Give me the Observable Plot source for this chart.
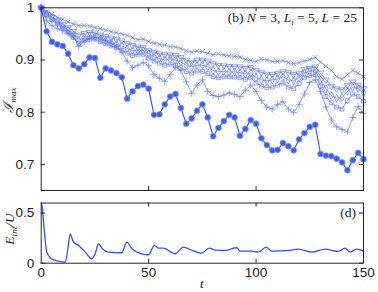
<!DOCTYPE html>
<html><head><meta charset="utf-8">
<script src="https://cdn.jsdelivr.net/npm/d3@7"></script>
<script src="https://cdn.jsdelivr.net/npm/@observablehq/plot@0.6"></script>
<style>
body{margin:0;background:#fff;}
#wrap{position:relative;width:378px;height:292px;background:#fff;}
#wrap svg{position:absolute;left:0;}
</style></head><body><div id="wrap"></div>
<script>
// ---- data ----
const t = [0,2.5,5,7.5,10,12.5,15,17.5,20,22.5,25,27.5,30,32.5,35,37.5,40,42.5,45,47.5,50,52.5,55,57.5,60,62.5,65,67.5,70,72.5,75,77.5,80,82.5,85,87.5,90,92.5,95,97.5,100,102.5,105,107.5,110,112.5,115,117.5,120,122.5,125,127.5,130,132.5,135,137.5,140,142.5,145,147.5,150];
const circles = [1.0,0.955,0.935,0.930,0.927,0.912,0.890,0.884,0.892,0.905,0.904,0.866,0.884,0.880,0.875,0.867,0.826,0.840,0.850,0.853,0.845,0.795,0.796,0.815,0.830,0.835,0.808,0.778,0.788,0.803,0.815,0.790,0.754,0.770,0.783,0.795,0.790,0.755,0.768,0.785,0.778,0.750,0.737,0.727,0.728,0.741,0.735,0.727,0.748,0.760,0.772,0.776,0.720,0.717,0.716,0.711,0.704,0.689,0.708,0.722,0.710];
const plusS = [1.0,0.975,0.966,0.960,0.956,0.951,0.945,0.926,0.936,0.941,0.943,0.943,0.937,0.932,0.926,0.915,0.898,0.885,0.890,0.895,0.889,0.872,0.865,0.859,0.872,0.886,0.880,0.858,0.836,0.852,0.862,0.840,0.832,0.830,0.833,0.837,0.834,0.830,0.842,0.852,0.840,0.822,0.810,0.806,0.815,0.820,0.806,0.799,0.815,0.835,0.857,0.862,0.840,0.810,0.785,0.772,0.767,0.762,0.790,0.811,0.798];
const timesS = [1.0,0.993,0.988,0.982,0.978,0.973,0.969,0.966,0.966,0.965,0.962,0.960,0.957,0.954,0.952,0.950,0.947,0.943,0.939,0.940,0.935,0.932,0.930,0.928,0.926,0.925,0.922,0.918,0.915,0.917,0.916,0.913,0.910,0.912,0.910,0.908,0.907,0.906,0.901,0.899,0.897,0.902,0.900,0.897,0.897,0.899,0.895,0.893,0.895,0.898,0.901,0.905,0.896,0.888,0.880,0.868,0.863,0.872,0.880,0.875,0.868];
const triS = [1.0,0.990,0.983,0.975,0.968,0.962,0.955,0.948,0.951,0.953,0.952,0.948,0.945,0.942,0.940,0.937,0.932,0.928,0.925,0.924,0.918,0.915,0.912,0.910,0.910,0.909,0.905,0.900,0.896,0.900,0.900,0.898,0.893,0.890,0.889,0.888,0.887,0.887,0.884,0.886,0.880,0.876,0.873,0.872,0.874,0.878,0.876,0.872,0.875,0.882,0.884,0.887,0.875,0.862,0.850,0.845,0.843,0.852,0.858,0.852,0.846];
const diaS = [1.0,0.988,0.980,0.972,0.964,0.957,0.948,0.938,0.943,0.946,0.945,0.940,0.937,0.933,0.930,0.927,0.922,0.918,0.918,0.918,0.912,0.906,0.903,0.900,0.902,0.900,0.896,0.890,0.887,0.890,0.890,0.887,0.880,0.878,0.878,0.877,0.877,0.876,0.873,0.875,0.866,0.862,0.860,0.862,0.864,0.868,0.862,0.860,0.866,0.875,0.878,0.880,0.862,0.845,0.832,0.827,0.828,0.840,0.848,0.845,0.837];
const sqS = [1.0,0.986,0.977,0.969,0.961,0.953,0.943,0.932,0.937,0.940,0.940,0.935,0.931,0.927,0.923,0.919,0.913,0.909,0.911,0.911,0.904,0.898,0.894,0.890,0.892,0.890,0.885,0.878,0.875,0.879,0.878,0.874,0.868,0.866,0.868,0.868,0.867,0.866,0.863,0.866,0.856,0.850,0.847,0.848,0.852,0.856,0.848,0.845,0.855,0.866,0.870,0.872,0.850,0.830,0.818,0.810,0.806,0.822,0.835,0.830,0.821];
const eT = [0,0.3,1.5,2.6,4.9,8,11.2,12.4,13.5,15,17.4,20.5,23.5,25.1,26.7,28.2,31.3,37.5,39.8,42.2,46.8,49.9,52.7,54.6,56.9,62.4,66.2,68.5,74.7,78.2,81,85.6,91,92.5,98,101,104.7,107.3,115,119.7,125.9,132.1,138.3,141.4,143.7,146.8,150];
const eV = [0.60,0.58,0.31,0.11,0.044,0.02,0.01,0.144,0.29,0.21,0.177,0.11,0.044,0.094,0.194,0.15,0.11,0.104,0.21,0.144,0.094,0.084,0.177,0.15,0.15,0.094,0.16,0.144,0.10,0.15,0.13,0.127,0.154,0.12,0.12,0.11,0.16,0.12,0.127,0.14,0.11,0.14,0.117,0.15,0.11,0.14,0.12];
const xTicks = [0,50,100,150];
const yTicksTop = [0.7,0.8,0.9,1];
const yTicksBot = [0,0.5];

// ---- build ----
const W = 378, ML = 40.7, MR = 15;
const blue = "#2f50ff";
const mk = arr => t.map((x,i)=>({t:x, v:arr[i]}));
const font = "'Liberation Sans', Arial, sans-serif";
const serif = "'Liberation Serif', 'Times New Roman', serif";
const frameCol = "#262626";
const wrap = document.getElementById("wrap");

function boxTicks(xT, yT, areaW, areaH){
  const k = 4;
  return [
    Plot.tickX(xT, {x:d=>d, insetTop: areaH-k, stroke:frameCol}),
    Plot.tickX(xT, {x:d=>d, insetBottom: areaH-k, stroke:frameCol}),
    Plot.tickY(yT, {y:d=>d, insetRight: areaW-k, stroke:frameCol}),
    Plot.tickY(yT, {y:d=>d, insetLeft: areaW-k, stroke:frameCol}),
  ];
}

const topH = 192, topMT = 7.3, topMB = 2;
const areaW = W - ML - MR;
const series = [
  {d: mk(sqS), sym:"square", r:2.2},
  {d: mk(diaS), sym:"diamond", r:2.4},
  {d: mk(triS), sym:"triangle", r:2.4, rot:180},
  {d: mk(timesS), sym:"times", r:2.2},
  {d: mk(plusS), sym:"plus", r:2.4},
];
const topMarks = [];
for (const s of series) {
  topMarks.push(Plot.line(s.d, {x:"t", y:"v", stroke:blue, strokeWidth:0.7, strokeOpacity:0.8}));
  topMarks.push(Plot.dot(s.d, {x:"t", y:"v", symbol: ()=>s.sym, r:s.r, stroke:"#5d78ff", strokeWidth:0.9, fill:"none", strokeOpacity:0.75, rotate: s.rot||0}));
}
const cd = mk(circles);
topMarks.push(Plot.line(cd, {x:"t", y:"v", stroke:blue, strokeWidth:1.1}));
topMarks.push(Plot.dot(cd, {x:"t", y:"v", r:2.9, fill:"#3a5cff", stroke:"#8597ff", strokeWidth:0.8}));

const topPlot = Plot.plot({
  width: W, height: topH, marginLeft: ML, marginRight: MR, marginTop: topMT, marginBottom: topMB,
  x: {domain:[0,150], axis:null},
  y: {domain:[0.65,1], axis:null},
  style: {fontFamily: font, fontSize:"13.5px", color:"#222", background:"transparent", overflow:"visible"},
  marks: [
    ...topMarks,
    ...boxTicks(xTicks.slice(1,3), yTicksTop, areaW, topH-topMT-topMB),
    Plot.frame({stroke:frameCol, strokeWidth:1}),
    Plot.axisY(yTicksTop, {tickSize:0, tickPadding:7, fontSize:13.5, label:null, tickFormat: d => d===1 ? "1" : d3.format(".1f")(d)})
  ]
});
topPlot.style.top = "0px";
wrap.appendChild(topPlot);

const botTop = 192, botH = 100, botMT = 10.5, botMB = 29.3;
const ed = eT.map((x,i)=>({t:x, v:eV[i]}));
const botPlot = Plot.plot({
  width: W, height: botH, marginLeft: ML, marginRight: MR, marginTop: botMT, marginBottom: botMB,
  x: {domain:[0,150], axis:null},
  y: {domain:[0,0.6], axis:null},
  style: {fontFamily: font, fontSize:"13.5px", color:"#222", background:"transparent", overflow:"visible"},
  marks: [
    Plot.line(ed, {x:"t", y:"v", stroke:blue, strokeWidth:1.3, curve:"monotone-x"}),
    ...boxTicks(xTicks.slice(1,3), yTicksBot, areaW, botH-botMT-botMB),
    Plot.frame({stroke:frameCol, strokeWidth:1}),
    Plot.axisY(yTicksBot, {tickSize:0, tickPadding:7, fontSize:13.5, label:null, tickFormat: d => d===0 ? "0" : String(d)}),
    Plot.axisX(xTicks, {tickSize:0, tickPadding:4, fontSize:13.5, label:null, tickFormat: d=>String(d)})
  ]
});
botPlot.style.top = botTop + "px";
wrap.appendChild(botPlot);

// ---- text labels with sub/italics ----
const sTop = d3.select(topPlot);
const ann = sTop.append("text").attr("x", 357).attr("y", 22).attr("text-anchor","end")
  .attr("font-family", serif).attr("font-size", 13.5).attr("fill","#222");
ann.append("tspan").text("(b) ");
ann.append("tspan").attr("font-style","italic").text("N");
ann.append("tspan").text(" = 3, ");
ann.append("tspan").attr("font-style","italic").text("L");
ann.append("tspan").attr("font-style","italic").attr("font-size",9).attr("dy",3).text("i");
ann.append("tspan").attr("dy",-3).text(" = 5, ");
ann.append("tspan").attr("font-style","italic").text("L");
ann.append("tspan").text(" = 25");

const yl = sTop.append("text").attr("transform","translate(13,100) rotate(-90)").attr("text-anchor","middle")
  .attr("font-family", serif).attr("font-size", 14).attr("fill","#222").attr("font-style","italic");
yl.append("tspan").text("\u2110");
yl.append("tspan").attr("font-size",9).attr("dy",3).text("max");

const sBot = d3.select(botPlot);
sBot.append("text").attr("x",356).attr("y",25).attr("text-anchor","end")
  .attr("font-family", serif).attr("font-size", 13.5).attr("fill","#222").text("(d)");
const el = sBot.append("text").attr("transform","translate(14,37) rotate(-90)").attr("text-anchor","middle")
  .attr("font-family", serif).attr("font-size", 13.5).attr("fill","#222").attr("font-style","italic");
el.append("tspan").text("E");
el.append("tspan").attr("font-size",9).attr("dy",3).text("int");
el.append("tspan").attr("dy",-3).text("/U");
sBot.append("text").attr("x",202).attr("y",96).attr("text-anchor","middle")
  .attr("font-family", serif).attr("font-size", 13.5).attr("font-style","italic").attr("fill","#222").text("t");
</script></body></html>
